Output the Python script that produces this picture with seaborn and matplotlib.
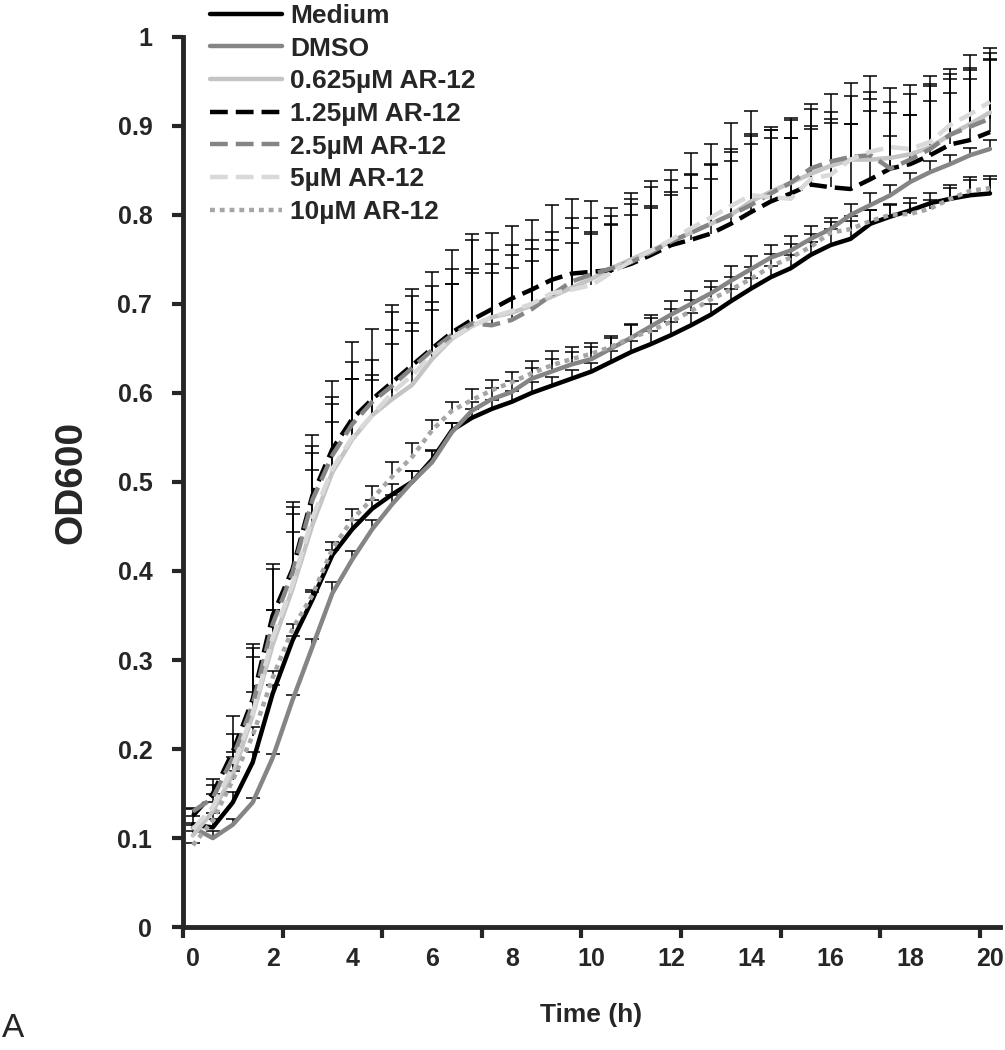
import numpy as np
import pandas as pd
import matplotlib
matplotlib.use('Agg')
import matplotlib.pyplot as plt
import seaborn as sns

sns.set_style('ticks')
plt.rcParams['font.family'] = ['Liberation Sans', 'DejaVu Sans']

# sampling every 30 min, 0 - 20 h
time_h = np.arange(41) * 0.5

medium = [0.115, 0.112, 0.14, 0.185, 0.262, 0.322, 0.368, 0.418, 0.447, 0.47,
          0.486, 0.5, 0.525, 0.558, 0.572, 0.582, 0.59, 0.6, 0.608, 0.616,
          0.624, 0.635, 0.646, 0.655, 0.665, 0.676, 0.688, 0.703, 0.717, 0.73,
          0.74, 0.755, 0.766, 0.773, 0.79, 0.798, 0.805, 0.813, 0.818, 0.822, 0.824]
dmso = [0.112, 0.1, 0.115, 0.14, 0.19, 0.255, 0.315, 0.375, 0.413, 0.447,
        0.475, 0.5, 0.522, 0.556, 0.58, 0.593, 0.601, 0.616, 0.624, 0.632,
        0.638, 0.65, 0.662, 0.675, 0.688, 0.7, 0.712, 0.726, 0.739, 0.752,
        0.76, 0.773, 0.784, 0.8, 0.811, 0.822, 0.837, 0.848, 0.857, 0.867, 0.874]
ar_0625 = [0.103, 0.13, 0.171, 0.238, 0.317, 0.38, 0.452, 0.511, 0.548, 0.575,
           0.593, 0.609, 0.638, 0.661, 0.675, 0.685, 0.69, 0.698, 0.708, 0.718,
           0.728, 0.74, 0.75, 0.76, 0.77, 0.78, 0.79, 0.8, 0.815, 0.826,
           0.836, 0.846, 0.855, 0.862, 0.862, 0.864, 0.868, 0.876, 0.89, 0.902, 0.915]
ar_125 = [0.125, 0.15, 0.197, 0.256, 0.35, 0.402, 0.485, 0.537, 0.571, 0.593,
          0.612, 0.631, 0.65, 0.668, 0.682, 0.694, 0.706, 0.716, 0.727, 0.734,
          0.736, 0.738, 0.745, 0.755, 0.766, 0.772, 0.779, 0.79, 0.803, 0.815,
          0.824, 0.834, 0.831, 0.829, 0.84, 0.852, 0.857, 0.867, 0.879, 0.884, 0.893]
ar_25 = [0.13, 0.145, 0.19, 0.25, 0.34, 0.398, 0.48, 0.53, 0.565, 0.59,
         0.608, 0.628, 0.648, 0.665, 0.678, 0.676, 0.682, 0.694, 0.71, 0.725,
         0.733, 0.74, 0.747, 0.758, 0.77, 0.78, 0.79, 0.8, 0.811, 0.824,
         0.836, 0.852, 0.86, 0.865, 0.867, 0.852, 0.862, 0.874, 0.89, 0.899, 0.908]
ar_5 = [0.11, 0.135, 0.18, 0.24, 0.325, 0.385, 0.46, 0.515, 0.55, 0.575,
        0.6, 0.62, 0.642, 0.662, 0.675, 0.685, 0.692, 0.7, 0.712, 0.716,
        0.721, 0.735, 0.748, 0.76, 0.772, 0.785, 0.797, 0.81, 0.822, 0.82,
        0.818, 0.84, 0.845, 0.862, 0.871, 0.876, 0.874, 0.882, 0.901, 0.913, 0.927]
ar_10 = [0.092, 0.12, 0.165, 0.215, 0.28, 0.335, 0.373, 0.425, 0.458, 0.481,
         0.506, 0.528, 0.558, 0.58, 0.592, 0.603, 0.612, 0.622, 0.631, 0.638,
         0.644, 0.652, 0.662, 0.67, 0.68, 0.692, 0.705, 0.716, 0.728, 0.742,
         0.752, 0.764, 0.78, 0.784, 0.793, 0.8, 0.801, 0.807, 0.818, 0.827, 0.83]

# upper SD only
sd_medium = [0.01, 0.01, 0.012, 0.012, 0.01, 0.005, 0.008, 0.006, 0.01, 0.01,
             0.012, 0.012, 0.01, 0.008, 0.01, 0.01, 0.012, 0.012, 0.01, 0.01,
             0.01, 0.012, 0.012, 0.014, 0.015, 0.014, 0.012, 0.014, 0.012, 0.012,
             0.015, 0.015, 0.018, 0.02, 0.015, 0.013, 0.014, 0.012, 0.015, 0.02, 0.02]
sd_dmso = [0.005, 0.008, 0.006, 0.005, 0.004, 0.006, 0.009, 0.013, 0.01, 0.01,
           0.01, 0.012, 0.014, 0.01, 0.01, 0.012, 0.012, 0.012, 0.014, 0.014,
           0.013, 0.012, 0.015, 0.013, 0.015, 0.014, 0.014, 0.016, 0.015, 0.014,
           0.016, 0.015, 0.013, 0.012, 0.014, 0.012, 0.01, 0.012, 0.01, 0.008, 0.01]
sd_0625 = [0.005, 0.01, 0.02, 0.026, 0.039, 0.064, 0.061, 0.056, 0.068, 0.045,
           0.062, 0.06, 0.055, 0.061, 0.06, 0.05, 0.05, 0.05, 0.053, 0.05,
           0.05, 0.05, 0.05, 0.05, 0.052, 0.05, 0.05, 0.06, 0.065, 0.06,
           0.05, 0.05, 0.048, 0.04, 0.055, 0.05, 0.044, 0.052, 0.047, 0.05, 0.06]
sd_125 = [0.008, 0.016, 0.04, 0.062, 0.058, 0.076, 0.068, 0.076, 0.086, 0.079,
          0.087, 0.086, 0.086, 0.092, 0.097, 0.086, 0.082, 0.078, 0.084, 0.084,
          0.079, 0.07, 0.079, 0.083, 0.084, 0.097, 0.101, 0.113, 0.114, 0.084,
          0.085, 0.09, 0.105, 0.119, 0.116, 0.091, 0.089, 0.089, 0.085, 0.095, 0.094]
sd_25 = [0.004, 0.015, 0.027, 0.063, 0.062, 0.074, 0.06, 0.065, 0.07, 0.047,
         0.083, 0.081, 0.072, 0.074, 0.094, 0.084, 0.084, 0.078, 0.071, 0.071,
         0.063, 0.059, 0.071, 0.073, 0.069, 0.066, 0.066, 0.074, 0.08, 0.071,
         0.071, 0.067, 0.055, 0.069, 0.071, 0.075, 0.074, 0.071, 0.068, 0.066, 0.074]
sd_5 = [0.005, 0.015, 0.017, 0.063, 0.031, 0.079, 0.072, 0.072, 0.066, 0.04,
        0.071, 0.059, 0.06, 0.06, 0.064, 0.06, 0.063, 0.062, 0.06, 0.069,
        0.06, 0.054, 0.064, 0.048, 0.054, 0.06, 0.06, 0.061, 0.066, 0.075,
        0.068, 0.06, 0.063, 0.04, 0.059, 0.012, 0.038, 0.065, 0.052, 0.05, 0.047]
sd_10 = [0.003, 0.008, 0.01, 0.01, 0.008, 0.006, 0.006, 0.008, 0.012, 0.014,
         0.016, 0.016, 0.012, 0.01, 0.012, 0.012, 0.012, 0.014, 0.016, 0.014,
         0.012, 0.012, 0.014, 0.014, 0.014, 0.012, 0.014, 0.014, 0.013, 0.014,
         0.015, 0.015, 0.012, 0.015, 0.012, 0.012, 0.012, 0.01, 0.012, 0.012, 0.01]

labels = ['Medium', 'DMSO', '0.625µM AR-12', '1.25µM AR-12',
          '2.5µM AR-12', '5µM AR-12', '10µM AR-12']
means = [medium, dmso, ar_0625, ar_125, ar_25, ar_5, ar_10]
sds = [sd_medium, sd_dmso, sd_0625, sd_125, sd_25, sd_5, sd_10]
colors = ['#000000', '#858585', '#c4c4c4', '#000000', '#858585', '#d9d9d9', '#a6a6a6']
styles = ['-', '-', '-', (0, (4, 1.8)), (0, (4, 1.8)), (0, (4, 1.8)), (0, (1.1, 1.1))]

fig = plt.figure(figsize=(10.05, 10.5), dpi=100)
ax = fig.add_axes([0.182, 0.117, 0.813, 0.848])

for lab, m, sd in zip(labels, means, sds):
    lower = np.zeros(len(sd))
    eb = ax.errorbar(time_h, m, yerr=[lower, sd], fmt='none', ecolor='black',
                     elinewidth=1.1, capsize=5, capthick=1.1, zorder=1)
    for cl in eb[1]:
        if np.allclose(cl.get_ydata(), m):
            cl.set_visible(False)

for lab, m, col, ls in zip(labels, means, colors, styles):
    df = pd.DataFrame({'time': time_h, 'od': m})
    sns.lineplot(data=df, x='time', y='od', color=col, linestyle=ls, linewidth=3.2,
                 label=lab, ax=ax, zorder=2, legend=False)

ax.set_xlim(-0.25, 20.25)
ax.set_ylim(0, 1)
ax.set_yticks(np.arange(0, 1.01, 0.1))
ax.set_yticklabels(['0', '0.1', '0.2', '0.3', '0.4', '0.5', '0.6', '0.7', '0.8', '0.9', '1'])
ax.set_xticks(np.arange(0, 21, 2))
ax.set_xticks(np.arange(-0.25, 20, 2.5), minor=True)
ax.tick_params(axis='x', which='major', length=0, pad=14, labelsize=18)
ax.tick_params(axis='x', which='minor', length=8, width=3, direction='out')
ax.tick_params(axis='y', length=8, width=3, direction='out', pad=14, labelsize=18)
for lbl in ax.get_xticklabels() + ax.get_yticklabels():
    lbl.set_fontweight('bold')

sns.despine(ax=ax)
for side in ('left', 'bottom'):
    ax.spines[side].set_linewidth(3.5)

ax.set_xlabel('Time (h)', fontsize=19, fontweight='bold', labelpad=23)
ax.set_ylabel('OD600', fontsize=28, fontweight='bold', labelpad=20)

handles, labs = ax.get_legend_handles_labels()
leg = fig.legend(handles, labs, loc='upper left', bbox_to_anchor=(0.185, 1.019),
                 frameon=False, handlelength=2.75, handletextpad=0.3,
                 labelspacing=0.33, prop={'weight': 'bold', 'size': 19})

fig.text(0.002, 0.012, 'A', fontsize=24)

fig.savefig('out.png', dpi=100)
